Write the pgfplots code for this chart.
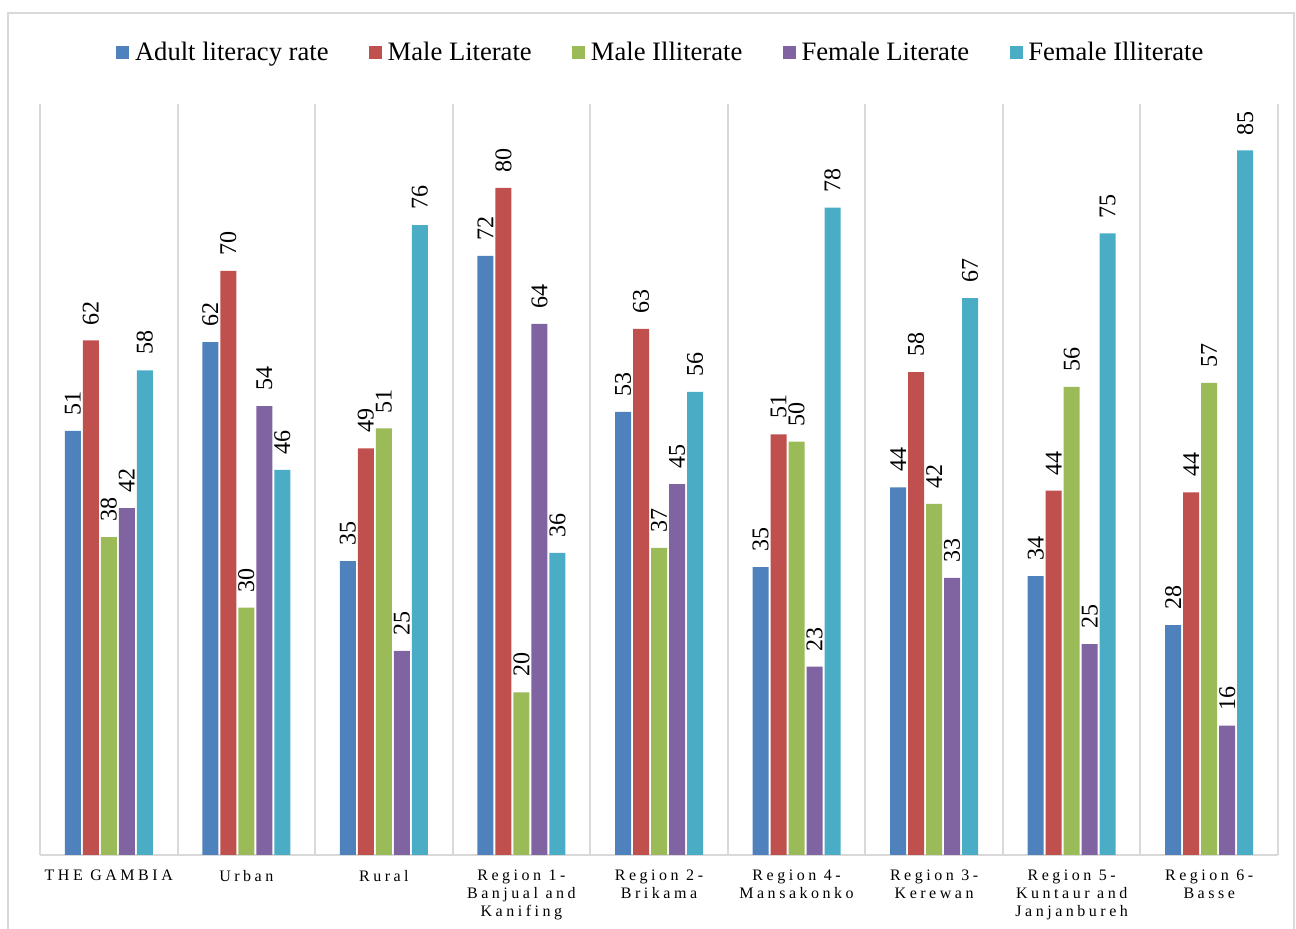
\documentclass[border=0pt]{standalone}
\usepackage{fontspec}
\setmainfont{Liberation Serif}
\newfontfamily\spacedfont[LetterSpace=22]{Liberation Serif}
\usepackage{pgfplots}
\usepackage{pgfplotstable}
\pgfplotsset{compat=1.18}

\definecolor{AdultColor}{HTML}{4F81BD}
\definecolor{MaleLitColor}{HTML}{C0504D}
\definecolor{MaleIllColor}{HTML}{9BBB59}
\definecolor{FemLitColor}{HTML}{8064A2}
\definecolor{FemIllColor}{HTML}{4BACC6}
\definecolor{GridColor}{HTML}{D9D9D9}

% literacy rates (%) per area
\pgfplotstableread{
x  adult  malelit  maleill  femlit  femill
0  51.1   62.0     38.3     41.8    58.4
1  61.8   70.4     29.8     54.1    46.4
2  35.4   49.0     51.4     24.6    75.9
3  72.2   80.4     19.6     64.0    36.4
4  53.4   63.4     37.0     44.7    55.8
5  34.7   50.7     49.8     22.7    78.0
6  44.3   58.2     42.3     33.4    67.1
7  33.6   43.9     56.4     25.4    74.9
8  27.7   43.7     56.9     15.6    84.9
}\literacy

\pgfplotsset{
  sq legend/.style={legend image code/.code={\fill[##1] (0pt,-3.25pt) rectangle (6.5pt,3.25pt);}},
}

\begin{document}
\begin{tikzpicture}
\path[use as bounding box] (-20pt,-37pt) rectangle (628pt,427.5pt);
\draw[GridColor, line width=0.75pt] (-16pt,-50pt) -- (-16pt,421pt) -- (627pt,421pt) -- (627pt,-50pt);
\begin{axis}[
    scale only axis,
    width=619pt, height=375.5pt,
    ybar=1pt, bar width=8pt,
    xmin=-0.5, xmax=8.5, ymin=0, ymax=90.5,
    axis x line=bottom, axis y line=none,
    axis line style={-, draw=GridColor, line width=1pt},
    xtick={0,...,8},
    xticklabels={THE GAMBIA, Urban, Rural, {Region 1-\\Banjual and\\Kanifing}, {Region 2-\\Brikama}, {Region 4-\\Mansakonko}, {Region 3-\\Kerewan}, {Region 5-\\Kuntaur and\\Janjanbureh}, {Region 6-\\Basse}},
    major tick length=0pt, minor tick length=0pt,
    minor xtick={-0.5,0.5,...,8.5},
    xminorgrids,
    minor grid style={GridColor, line width=1pt},
    xticklabel style={font=\spacedfont\fontsize{8}{9}\selectfont, align=center, yshift=-4pt},
    nodes near coords,
    nodes near coords style={rotate=90, anchor=west, text=black, inner xsep=7.5pt, font=\fontsize{12}{14}\selectfont},
    /pgf/number format/fixed,
    /pgf/number format/precision=0,
    /pgf/number format/assume math mode=true,
    legend style={at={(0.503,1.068)}, anchor=center, draw=none, fill=none,
        legend columns=-1, font=\fontsize{13.3}{15}\selectfont,
        nodes={inner xsep=2.8pt},
        /tikz/every even column/.append style={column sep=17.5pt}},
]
\addplot[fill=AdultColor, draw=none, sq legend] table[x=x, y=adult] {\literacy};
\addplot[fill=MaleLitColor, draw=none, sq legend] table[x=x, y=malelit] {\literacy};
\addplot[fill=MaleIllColor, draw=none, sq legend] table[x=x, y=maleill] {\literacy};
\addplot[fill=FemLitColor, draw=none, sq legend] table[x=x, y=femlit] {\literacy};
\addplot[fill=FemIllColor, draw=none, sq legend] table[x=x, y=femill] {\literacy};
\legend{Adult literacy rate, Male Literate, Male Illiterate, Female Literate, Female Illiterate}
\end{axis}
\end{tikzpicture}
\end{document}
